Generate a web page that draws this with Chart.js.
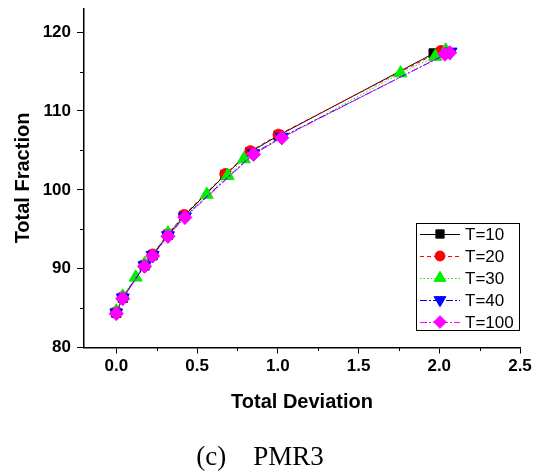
<!DOCTYPE html>
<html lang="en">

<head>
    <meta charset="UTF-8">
    <title>PMR3 - Total Fraction vs Total Deviation</title>
    <style>
        body { margin: 0; background: #fff; }
        #wrap { width: 535px; height: 476px; }
    </style>
</head>

<body>
    <div id="wrap">
        <canvas id="grafico" width="535" height="476"></canvas>
    </div>

    <script src="https://cdn.jsdelivr.net/npm/chart.js"></script>

    <script>
        // valores
        const seriesNames = ['T=10', 'T=20', 'T=30', 'T=40', 'T=100'];

        const x10 = [0.0, 0.04, 0.175, 0.225, 0.32, 0.42, 0.675, 0.83, 1.005, 1.965];
        const y10 = [84.4, 86.3, 90.4, 91.7, 94.3, 96.7, 101.9, 104.8, 106.9, 117.3];

        const x20 = [0.0, 0.04, 0.175, 0.225, 0.32, 0.42, 0.675, 0.83, 1.005, 2.01];
        const y20 = [84.5, 86.4, 90.5, 91.8, 94.4, 96.8, 102.0, 104.9, 107.0, 117.6];

        const x30 = [0.0, 0.04, 0.12, 0.175, 0.32, 0.56, 0.69, 0.79, 1.76, 1.975, 2.04];
        const y30 = [84.6, 86.5, 88.9, 90.6, 94.5, 99.4, 101.8, 103.9, 114.8, 116.9, 117.7];

        const x40 = [0.0, 0.04, 0.175, 0.225, 0.32, 0.425, 0.85, 1.025, 2.07];
        const y40 = [84.4, 86.3, 90.4, 91.7, 94.2, 96.6, 104.6, 106.7, 117.5];

        const x100 = [0.0, 0.04, 0.175, 0.225, 0.32, 0.425, 0.85, 1.025, 2.035, 2.065];
        const y100 = [84.3, 86.2, 90.3, 91.6, 94.1, 96.5, 104.5, 106.6, 117.2, 117.4];

        const xTicks = [0, 0.5, 1.0, 1.5, 2.0, 2.5];
        const yTicks = [80, 90, 100, 110, 120];
        const xMinorStep = 0.25;
        const yMinorStep = 5;

        const estilos = [
            { cor: '#000000', ponto: 'rect', raio: 6.5, rot: 0, dash: [] },
            { cor: '#ff0000', ponto: 'circle', raio: 5.5, rot: 0, dash: [4, 3] },
            { cor: '#00ee00', ponto: 'triangle', raio: 7.5, rot: 0, dash: [1.5, 2] },
            { cor: '#0000ff', ponto: 'triangle', raio: 7.5, rot: 180, dash: [7, 2, 2, 2] },
            { cor: '#ff00ff', ponto: 'rectRot', raio: 7, rot: 0, dash: [7, 2, 2, 2, 2, 2] }
        ];

        const pares = [[x10, y10], [x20, y20], [x30, y30], [x40, y40], [x100, y100]];

        const datasets = pares.map(([xs, ys], i) => ({
            label: seriesNames[i],
            data: xs.map((x, j) => ({ x: x, y: ys[j] })),
            showLine: true,
            borderColor: estilos[i].cor,
            backgroundColor: estilos[i].cor,
            borderWidth: 1,
            borderDash: estilos[i].dash,
            pointStyle: estilos[i].ponto,
            pointRotation: estilos[i].rot,
            pointRadius: estilos[i].raio,
            pointBorderWidth: 1,
            pointBackgroundColor: estilos[i].cor,
            pointBorderColor: estilos[i].cor,
            order: pares.length - i
        }));

        const ehRotulo = (v, lista) => lista.some(t => Math.abs(t - v) < 1e-6);

        // ticks (maiores + menores) entre o primeiro e o ultimo rotulo
        function montarTicks(lista, passo) {
            const out = [];
            const ini = lista[0], fim = lista[lista.length - 1];
            for (let k = 0; ini + k * passo <= fim + 1e-9; k++) {
                out.push({ value: +(ini + k * passo).toFixed(4) });
            }
            return out;
        }

        // minor ticks menores, desenhados com a escala do proprio grafico
        const minorTicks = {
            id: 'minorTicks',
            afterDraw(chart) {
                const c = chart.ctx;
                const sx = chart.scales.x, sy = chart.scales.y;
                c.save();
                c.strokeStyle = '#000';
                c.lineWidth = 1;
                sx.ticks.forEach(t => {
                    if (ehRotulo(t.value, xTicks)) return;
                    const px = Math.round(sx.getPixelForValue(t.value)) + 0.5;
                    c.beginPath();
                    c.moveTo(px, sx.top);
                    c.lineTo(px, sx.top + 3.5);
                    c.stroke();
                });
                sy.ticks.forEach(t => {
                    if (ehRotulo(t.value, yTicks)) return;
                    const py = Math.round(sy.getPixelForValue(t.value)) + 0.5;
                    c.beginPath();
                    c.moveTo(sy.right, py);
                    c.lineTo(sy.right - 4, py);
                    c.stroke();
                });
                c.restore();
            }
        };

        // legenda no estilo Origin (linha + marcador)
        const legendaOrigin = {
            id: 'legendaOrigin',
            afterDraw(chart) {
                const c = chart.ctx;
                const bx = 416, by = 223, bw = 103, bh = 107;
                c.save();
                c.fillStyle = '#fff';
                c.fillRect(bx, by, bw, bh);
                c.strokeStyle = '#000';
                c.lineWidth = 1;
                c.strokeRect(bx + 0.5, by + 0.5, bw, bh);
                chart.data.datasets.forEach((ds, i) => {
                    const cy = 234 + i * 22;
                    c.strokeStyle = ds.borderColor;
                    c.setLineDash(ds.borderDash);
                    c.beginPath();
                    c.moveTo(420, cy + 0.5);
                    c.lineTo(460, cy + 0.5);
                    c.stroke();
                    c.setLineDash([]);
                    c.fillStyle = ds.pointBackgroundColor;
                    c.strokeStyle = ds.pointBorderColor;
                    Chart.helpers.drawPoint(c, {
                        pointStyle: ds.pointStyle,
                        rotation: ds.pointRotation,
                        radius: ds.pointRadius * 0.9,
                        borderWidth: 1
                    }, 440, cy);
                    c.fillStyle = '#000';
                    c.font = '17px "Liberation Sans", Arial, sans-serif';
                    c.textAlign = 'left';
                    c.textBaseline = 'middle';
                    c.fillText(ds.label, 465, cy + 1);
                });
                c.restore();
            }
        };

        const fonteEixo = { family: '"Liberation Sans", Arial, sans-serif', size: 17, weight: 'bold' };
        const fonteTitulo = { family: '"Liberation Sans", Arial, sans-serif', size: 20, weight: 'bold' };

        new Chart(document.getElementById('grafico'), {
            type: 'scatter',
            data: { datasets },
            options: {
                responsive: false,
                animation: false,
                layout: { padding: { top: 6, right: 15, left: 0, bottom: 0 } },
                plugins: {
                    legend: { display: false },
                    tooltip: { enabled: false },
                    title: {
                        display: true,
                        position: 'bottom',
                        text: '(c)    PMR3',
                        color: '#000',
                        font: { family: '"Liberation Serif", "Times New Roman", serif', size: 27, weight: 'normal' },
                        padding: { top: 0, bottom: 2 }
                    }
                },
                scales: {
                    x: {
                        type: 'linear',
                        min: -0.2,
                        max: 2.5,
                        afterBuildTicks: s => { s.ticks = montarTicks(xTicks, xMinorStep); },
                        afterFit: s => { s.height = 94.1; s.paddingLeft = 0; s.paddingRight = 0; },
                        ticks: {
                            color: '#000',
                            font: fonteEixo,
                            padding: 3,
                            maxRotation: 0,
                            autoSkip: false,
                            callback: v => ehRotulo(v, xTicks) ? v.toFixed(1) : ''
                        },
                        grid: {
                            drawOnChartArea: false,
                            tickLength: 6,
                            tickColor: ctx => ehRotulo(ctx.tick.value, xTicks) ? '#000' : 'rgba(0,0,0,0)'
                        },
                        border: { color: '#000', width: 1.5 },
                        title: {
                            display: true,
                            text: 'Total Deviation',
                            color: '#000',
                            font: fonteTitulo,
                            padding: { top: 0, bottom: 27 }
                        }
                    },
                    y: {
                        type: 'linear',
                        min: 80,
                        max: 123,
                        afterBuildTicks: s => { s.ticks = montarTicks(yTicks, yMinorStep); },
                        afterFit: s => { s.width = 84; s.paddingTop = 0; s.paddingBottom = 0; },
                        ticks: {
                            color: '#000',
                            font: fonteEixo,
                            padding: 6,
                            autoSkip: false,
                            callback: v => ehRotulo(v, yTicks) ? String(v) : ''
                        },
                        grid: {
                            drawOnChartArea: false,
                            tickLength: 7,
                            tickColor: ctx => ehRotulo(ctx.tick.value, yTicks) ? '#000' : 'rgba(0,0,0,0)'
                        },
                        border: { color: '#000', width: 1.5 },
                        title: {
                            display: true,
                            text: 'Total Fraction',
                            color: '#000',
                            font: fonteTitulo,
                            padding: { top: 11, bottom: 0 }
                        }
                    }
                }
            },
            plugins: [minorTicks, legendaOrigin]
        });
    </script>
</body>

</html>
